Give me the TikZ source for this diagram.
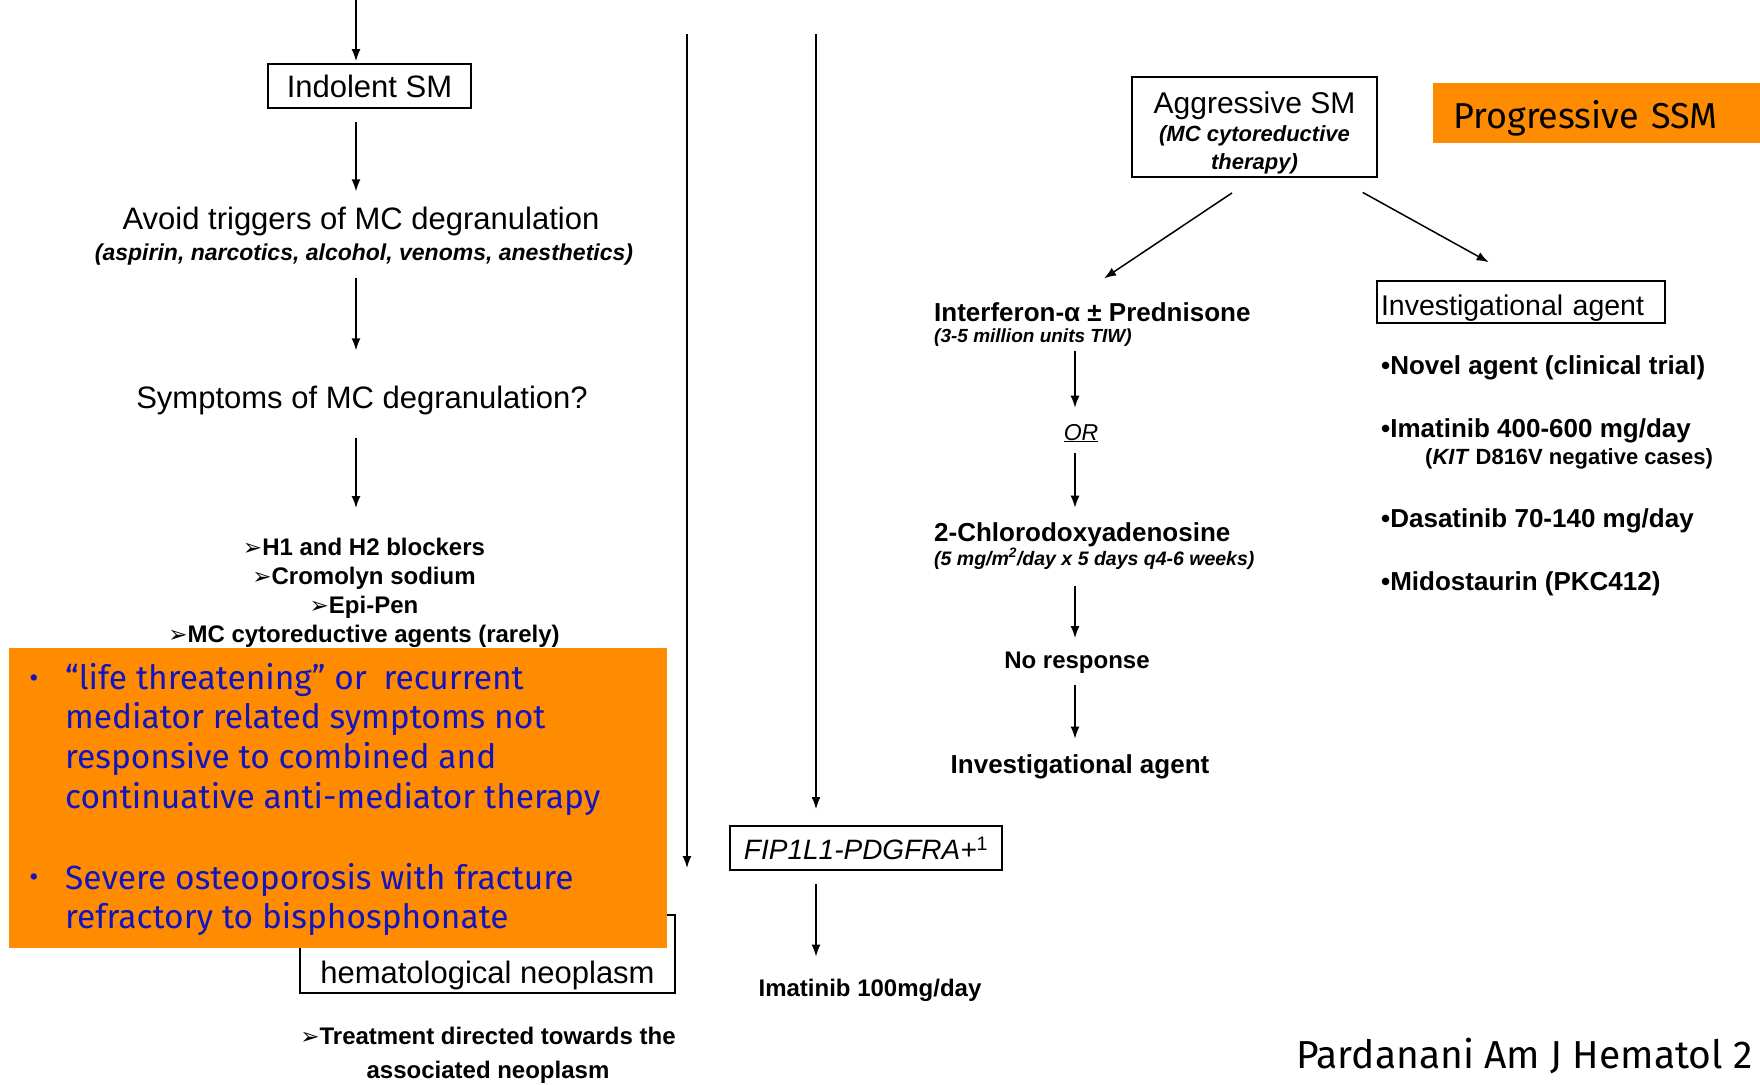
\documentclass[tikz,border=0pt]{standalone}
\usepackage{fontspec}
\setmainfont{Liberation Sans}
\newfontfamily\comicf{Fira Sans}
\newfontfamily\dejavuf{DejaVu Sans}
\usetikzlibrary{arrows.meta}
\definecolor{orng}{RGB}{255,140,0}
\definecolor{cblue}{RGB}{20,20,190}
\newcommand{\fsz}[1]{\fontsize{#1}{#1}\selectfont}
\newcommand{\arrowbul}{{\dejavuf\fontsize{23}{23}\selectfont ➢}}
\begin{document}
\begin{tikzpicture}[x=1pt,y=-1pt,
  arr/.style={-{Latex[length=12pt,width=9pt]}, line width=1.5pt},
  box/.style={draw, line width=1.8pt, inner sep=0pt},
  txt/.style={inner sep=0pt, align=center},
  comic/.style={inner sep=0pt, anchor=base west, text=cblue, font=\comicf\fsz{33.5}},
  cbul/.style={inner sep=0pt, text=cblue, font=\comicf\fsz{28}}]
\useasboundingbox (0,0) rectangle (1760,1084);
\fill[white] (0,0) rectangle (1760,1084);
\clip (0,0) rectangle (1760,1084);

% column coordinates
\coordinate (colL) at (356,0);
\coordinate (colM) at (1075,0);
\coordinate (t1) at (687,34);
\coordinate (e1) at (687,868);
\coordinate (t2) at (816,34);

% ---------- left column ----------
\node[box, minimum width=203, minimum height=44, font=\fsz{31}] (indolent) at (369.5,86) {Indolent SM};
\node[txt, font=\fsz{31}] (avoid) at (361,221) {Avoid triggers of MC degranulation};
\node[txt, font=\bfseries\itshape\fsz{23}] (aspirin) at (364,255) {(aspirin, narcotics, alcohol, venoms, anesthetics)};
\node[txt, font=\fsz{31}] (symptoms) at (362,400) {Symptoms of MC degranulation?};
\node[txt, anchor=north, font=\bfseries\fontsize{24}{29}\selectfont] (list) at (364,538)
  {\arrowbul H1 and H2 blockers\\ \arrowbul Cromolyn sodium\\ \arrowbul Epi-Pen\\ \arrowbul MC cytoreductive agents (rarely)};

\draw[arr, shorten >=2pt] (colL) -- (colL |- indolent.north);
\draw[arr, shorten <=13pt, shorten >=15pt] (colL |- indolent.south) -- (colL |- avoid.north);
\draw[arr, shorten <=12pt, shorten >=35pt] (colL |- aspirin.south) -- (colL |- symptoms.north);
\draw[arr, shorten <=23pt, shorten >=30pt] (colL |- symptoms.south) -- (colL |- list.north);

% SM-AHN box (upper part hidden by the orange overlay)
\node[box, minimum width=375, minimum height=78, text height=64pt, text depth=6pt, font=\fsz{31}] (ahn) at (487.5,954)
  {hematological neoplasm};
\node[txt, font=\bfseries\fontsize{24}{34}\selectfont] (treat) at (488,1055)
  {\arrowbul Treatment directed towards the\\associated neoplasm};

% orange overlay, left
\node[fill=orng, inner sep=0pt, anchor=north west, minimum width=658, minimum height=300] (obox) at (9,648) {};
\node[cbul] (bul1) at (34,681) {•};
\node[comic] (b1a) at (65,689) {“life threatening” or\enspace recurrent};
\node[comic] (b1b) at (65,728.7) {mediator related symptoms not};
\node[comic] (b1c) at (65,768.3) {responsive to combined and};
\node[comic] (b1d) at (65,808) {continuative anti-mediator therapy};
\node[cbul] (bul2) at (34,880) {•};
\node[comic] (b2a) at (65,889) {Severe osteoporosis with fracture};
\node[comic] (b2b) at (65,928) {refractory to bisphosphonate};

% ---------- middle long arrows ----------
\draw[arr] (t1) -- (e1);
\node[box, minimum width=272, minimum height=44, font=\itshape\fsz{28}] (fip) at (866,848)
  {FIP1L1-PDGFRA+\textsuperscript{\upshape 1}};
\node[txt, font=\bfseries\fsz{24}] (imat) at (870,990) {Imatinib 100mg/day};
\draw[arr, shorten >=16pt] (t2) -- (t2 |- fip.north);
\draw[arr, shorten <=13pt, shorten >=22pt] (t2 |- fip.south) -- (t2 |- imat.north);

% ---------- right part ----------
\node[box, minimum width=245, minimum height=100, align=center, font=\bfseries\itshape\fontsize{22}{28}\selectfont] (aggr) at (1254.5,127)
  {{\mdseries\upshape\fsz{30}\rule{0pt}{33pt}Aggressive SM}\\(MC cytoreductive\\therapy)};
\node[fill=orng, inner xsep=20pt, inner ysep=0pt, anchor=north west, minimum width=340, minimum height=60, text width=300, text height=36pt, text depth=6pt, align=left, font=\comicf\fsz{36}] (prog) at (1433,83) {Progressive SSM};

\node[txt, anchor=west, font=\bfseries\fsz{26}] (interf) at (934,312) {Interferon-α ± Prednisone};
\node[txt, anchor=west, font=\bfseries\itshape\fsz{19}] (interfsub) at (934,338) {(3-5 million units TIW)};
\node[txt, anchor=base, font=\itshape\fsz{23}] (orn) at (1081,440) {\underline{OR}};
\node[txt, anchor=west, font=\bfseries\fsz{26}] (chloro) at (934,535) {2-Chlorodoxyadenosine};
\node[txt, anchor=west, font=\bfseries\itshape\fsz{19.5}] (chlorosub) at (934,559) {(5 mg/m\textsuperscript{2}/day x 5 days q4-6 weeks)};
\node[txt, font=\bfseries\fsz{24}] (noresp) at (1077,663) {No response};
\node[txt, font=\bfseries\fsz{26}] (invest2) at (1080,767) {Investigational agent};

\draw[arr, shorten <=4pt, shorten >=16pt] (colM |- interfsub.south) -- (colM |- orn.north);
\draw[arr, shorten <=11pt, shorten >=15pt] (colM |- orn.south) -- (colM |- chloro.north);
\draw[arr, shorten <=16pt, shorten >=14pt] (colM |- chlorosub.south) -- (colM |- noresp.north);
\draw[arr, shorten <=11pt, shorten >=16pt] (colM |- noresp.south) -- (colM |- invest2.north);

\node[box, inner xsep=4pt, minimum width=288, minimum height=42, text width=280, text height=30pt, text depth=4pt, align=left, font=\fsz{28.5}] (invbox) at (1521,302) {Investigational agent};
\node[txt, anchor=west, font=\bfseries\fsz{26}] (nov) at (1381,368) {•Novel agent (clinical trial)};
\node[txt, anchor=west, font=\bfseries\fsz{26}] (imat4) at (1381,431) {•Imatinib 400-600 mg/day};
\node[txt, anchor=west, font=\bfseries\fsz{22}] (kit) at (1425,459) {(\textit{KIT} D816V negative cases)};
\node[txt, anchor=west, font=\bfseries\fsz{26}] (dasa) at (1381,521) {•Dasatinib 70-140 mg/day};
\node[txt, anchor=west, font=\bfseries\fsz{26}] (mido) at (1381,584) {•Midostaurin (PKC412)};

\draw[arr, shorten <=27pt, shorten >=43pt] (aggr.south) -- ([xshift=-24pt]interf.north);
\draw[arr, shorten <=30pt, shorten >=37pt] ([xshift=82pt]aggr.south) -- (invbox.north);

% citation
\node[inner sep=0pt, anchor=base west, font=\comicf\fsz{39}] (cite) at (1296,1068) {Pardanani Am J Hematol 2};
\end{tikzpicture}
\end{document}
